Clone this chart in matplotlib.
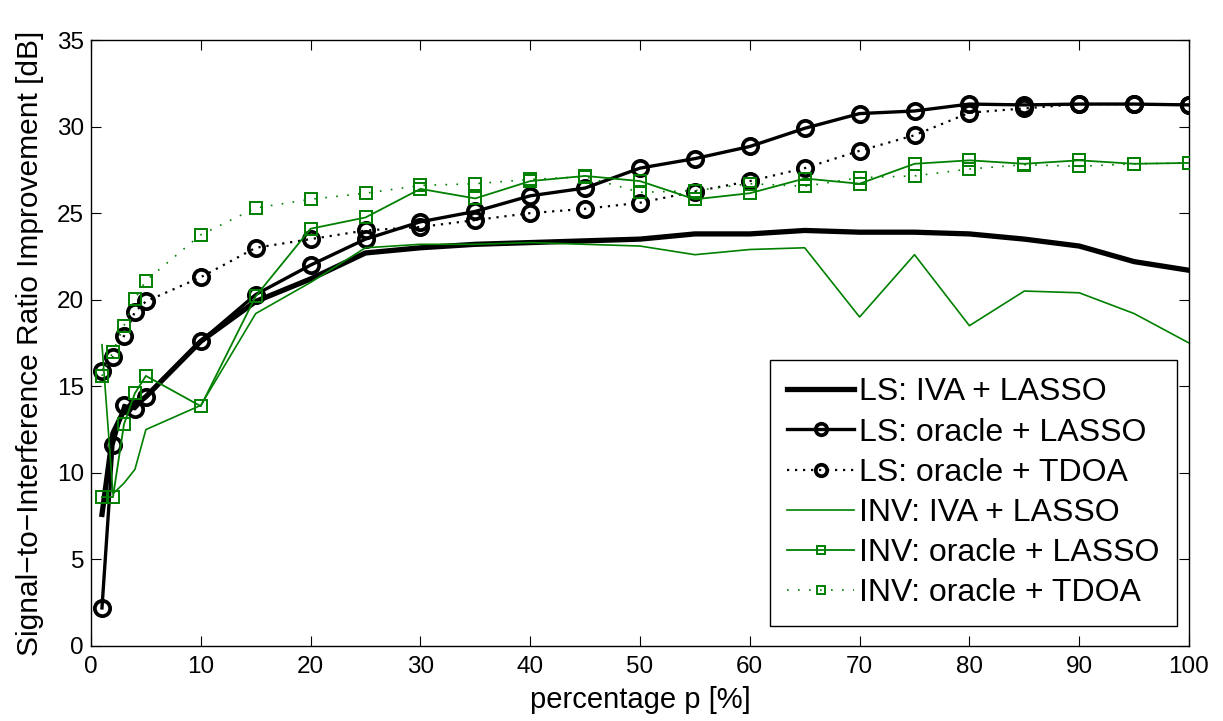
import numpy as np
import matplotlib
matplotlib.use("Agg")
from matplotlib import pyplot

pyplot.rcParams['font.family'] = ['Liberation Sans', 'DejaVu Sans']

green = "#008000"

# percentage p [%]
p = [1, 2, 3, 4, 5, 10, 15, 20, 25, 30, 35, 40, 45, 50, 55, 60, 65, 70, 75, 80, 85, 90, 95, 100]

# SIR improvement [dB]
ls_iva_lasso = [7.6, 12.3, 13.6, 13.9, 14.4, 17.6, 19.9, 21.2, 22.7, 23.0, 23.2, 23.3, 23.4, 23.5,
                23.8, 23.8, 24.0, 23.9, 23.9, 23.8, 23.5, 23.1, 22.2, 21.7]
ls_oracle_lasso = [2.2, 11.6, 13.9, 13.7, 14.4, 17.6, 20.3, 22.0, 23.5, 24.5, 25.1, 26.0, 26.45, 27.6,
                   28.15, 28.85, 29.9, 30.75, 30.9, 31.3, 31.25, 31.3, 31.3, 31.25]
ls_oracle_tdoa = [15.9, 16.7, 17.9, 19.3, 19.9, 21.3, 23.0, 23.5, 24.0, 24.2, 24.6, 25.0, 25.25, 25.6,
                  26.25, 26.85, 27.6, 28.6, 29.5, 30.8, 31.05, 31.3, 31.3, 31.25]
inv_iva_lasso = [17.4, 8.8, 9.4, 10.2, 12.5, 13.9, 19.2, 21.0, 23.0, 23.2, 23.2, 23.3, 23.2, 23.1,
                 22.6, 22.9, 23.0, 19.0, 22.6, 18.5, 20.5, 20.4, 19.2, 17.5]
inv_oracle_lasso = [8.6, 8.6, 12.8, 14.6, 15.6, 13.85, 20.2, 24.1, 24.75, 26.4, 25.85, 26.85, 27.15, 26.85,
                    25.8, 26.15, 27.0, 26.7, 27.85, 28.05, 27.85, 28.05, 27.85, 27.9]
inv_oracle_tdoa = [15.6, 17.0, 18.5, 20.05, 21.1, 23.75, 25.3, 25.8, 26.15, 26.6, 26.7, 26.95, 27.1, 26.2,
                   26.3, 26.7, 26.55, 27.05, 27.15, 27.55, 27.8, 27.7, 27.85, 27.9]

labels = ["LS: IVA + LASSO", "LS: oracle + LASSO", "LS: oracle + TDOA",
          "INV: IVA + LASSO", "INV: oracle + LASSO", "INV: oracle + TDOA"]

fig = pyplot.figure(figsize=(12.23, 7.21), dpi=100)
ax = fig.add_axes([91/1223, 1-646/721, 1098/1223, 606/721])

ax.plot(p, ls_iva_lasso, color="black", lw=3.8, label=labels[0], zorder=3)
ax.plot(p, ls_oracle_lasso, color="black", lw=2.4, marker="o", ms=11, mew=2.7, mfc="none",
        label=labels[1], zorder=4)
ax.plot(p, ls_oracle_tdoa, color="black", lw=1.6, ls=(0, (1, 2.6)), marker="o", ms=11, mew=2.7,
        mfc="none", label=labels[2], zorder=4)
ax.plot(p, inv_iva_lasso, color=green, lw=1.2, label=labels[3], zorder=5)
ax.plot(p, inv_oracle_lasso, color=green, lw=1.3, marker="s", ms=8.5, mew=1.4, mfc="none",
        label=labels[4], zorder=5)
ax.plot(p, inv_oracle_tdoa, color=green, lw=1.2, ls=(0, (1, 5.6)), marker="s", ms=8.5, mew=1.4,
        mfc="none", label=labels[5], zorder=5)

ax.set_xlim(0, 100)
ax.set_ylim(0, 35)
ax.set_xticks(np.arange(0, 101, 10))
ax.set_yticks(np.arange(0, 36, 5))
ax.tick_params(direction="in", length=7, width=0.8, top=True, right=True, labelsize=17.5)
ax.tick_params(axis="x", pad=7)
ax.tick_params(axis="y", pad=5)
for s in ax.spines.values():
    s.set_linewidth(1.0)

ax.set_xlabel("percentage p [%]", fontsize=21)
ax.set_ylabel("Signal\u2212to\u2212Interference Ratio Improvement [dB]", fontsize=21.5)
ax.xaxis.set_label_coords(0.5, -0.066)
ax.yaxis.set_label_coords(-0.043, 0.5)

leg = ax.legend(loc="lower right", bbox_to_anchor=(1086/1098, 20/606), borderaxespad=0,
                fontsize=23, handlelength=2.1, handletextpad=0.15, labelspacing=0.32,
                borderpad=0.55, markerscale=0.75, fancybox=False, framealpha=1)
leg.get_frame().set_edgecolor("black")
leg.get_frame().set_linewidth(1.0)

pyplot.savefig("out.png", dpi=100)
